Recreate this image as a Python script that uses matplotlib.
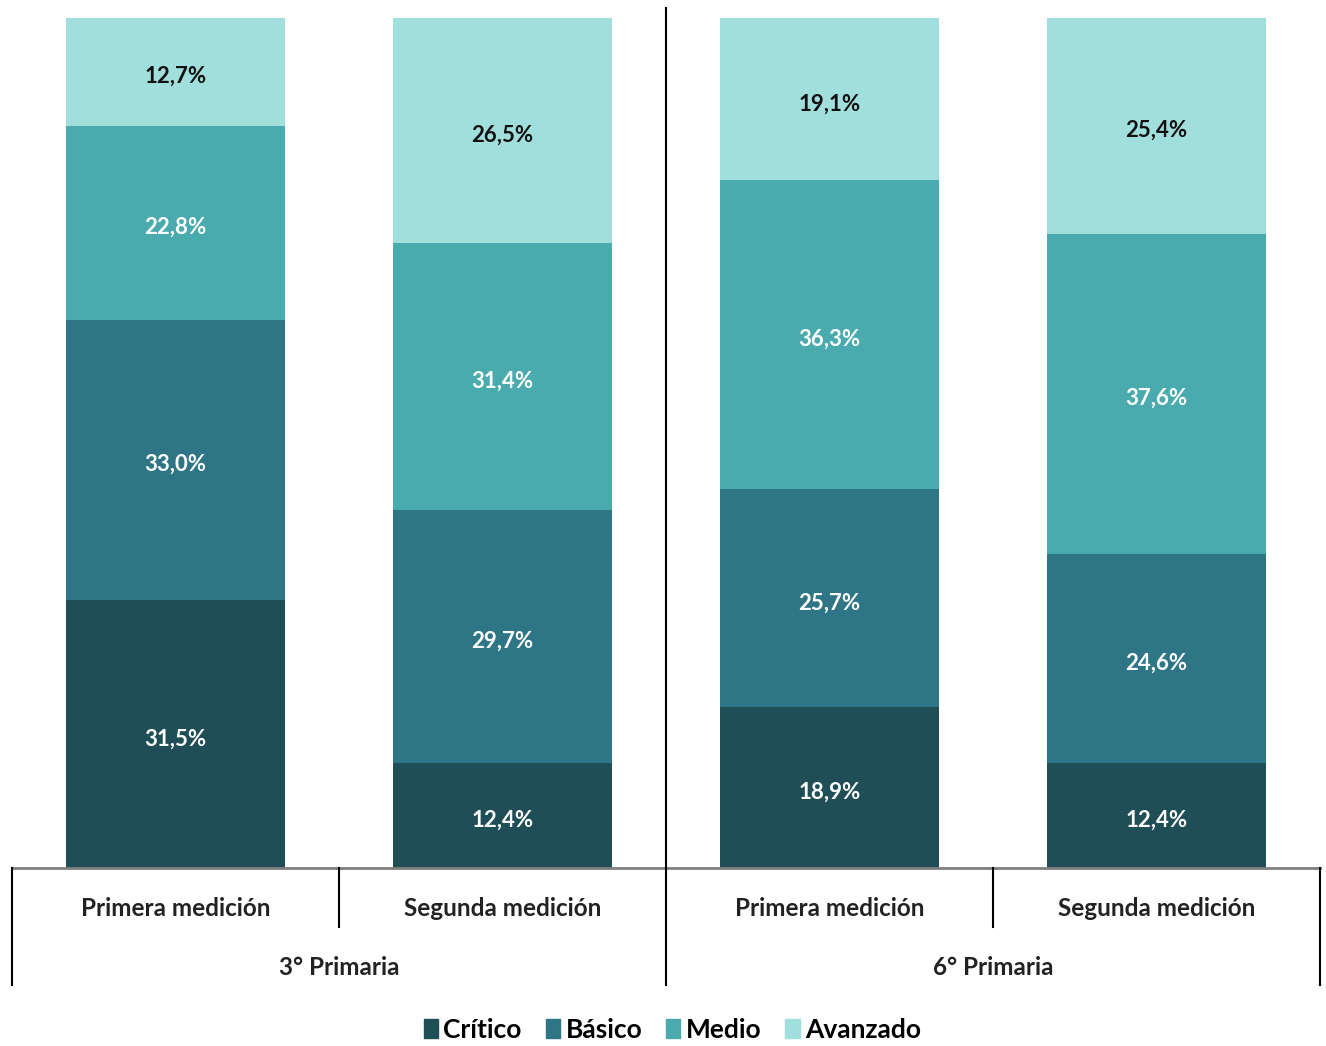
import matplotlib.pyplot as plt
from matplotlib.patches import Patch

plt.rcParams["font.family"] = ["Lato", "DejaVu Sans"]

# data
mediciones = ["Primera medición", "Segunda medición", "Primera medición", "Segunda medición"]
grupos = ["3° Primaria", "6° Primaria"]
niveles = ["Crítico", "Básico", "Medio", "Avanzado"]
critico = [31.5, 12.4, 18.9, 12.4]
basico = [33.0, 29.7, 25.7, 24.6]
medio = [22.8, 31.4, 36.3, 37.6]
avanzado = [12.7, 26.5, 19.1, 25.4]

colores = ["#1f4e56", "#2e7686", "#4aabaf", "#a1dfdd"]
texto = ["white", "white", "white", "#111111"]

fig = plt.figure(figsize=(13.26, 10.46), dpi=100)
ax = fig.add_axes([12 / 1326, 178 / 1046, 1308 / 1326, 850 / 1046])

x = range(len(mediciones))
bottom = [0] * len(mediciones)
for serie, color, tc in zip([critico, basico, medio, avanzado], colores, texto):
    bars = ax.bar(x, serie, width=0.667, bottom=bottom, color=color)
    for b, v, y0 in zip(bars, serie, bottom):
        ax.text(b.get_x() + b.get_width() / 2, y0 + v / 2 - 0.55, f"{v:.1f}%".replace(".", ","),
                ha="center", va="center", color=tc, fontsize=16, fontweight="bold")
    bottom = [a + b for a, b in zip(bottom, serie)]

ax.set_xlim(-0.5, 3.5)
ax.set_ylim(0, 100)
ax.axis("off")

# category axis with grouped labels
tr = ax.get_xaxis_transform()
ax.plot([-0.5, 3.5], [0, 0], color="#7f7f7f", lw=2, transform=tr, clip_on=False)
for xv, y_low, y_high in [(-0.5, -0.1376, 0), (0.5, -0.0694, 0), (1.5, -0.1376, 1.0118),
                          (2.5, -0.0694, 0), (3.5, -0.1376, 0)]:
    ax.plot([xv, xv], [y_low, y_high], color="black", lw=1.5, transform=tr, clip_on=False)

for i, m in enumerate(mediciones):
    ax.text(i, -0.0471, m, ha="center", va="center", fontsize=17.5, color="#222222",
            fontweight="bold", transform=tr)
for i, g in enumerate(grupos):
    ax.text(0.5 + 2 * i, -0.1176, g, ha="center", va="center", fontsize=17.5, color="#222222",
            fontweight="bold", transform=tr)

handles = [Patch(color=c, label=n) for c, n in zip(colores, niveles)]
fig.legend(handles=handles, loc="center", bbox_to_anchor=(0.507, 1 - 1030 / 1046), ncol=4,
           frameon=False, handlelength=0.55, handleheight=0.75,
           handletextpad=0.2, columnspacing=0.9, prop={"weight": "bold", "size": 19})

fig.savefig("out.png")
